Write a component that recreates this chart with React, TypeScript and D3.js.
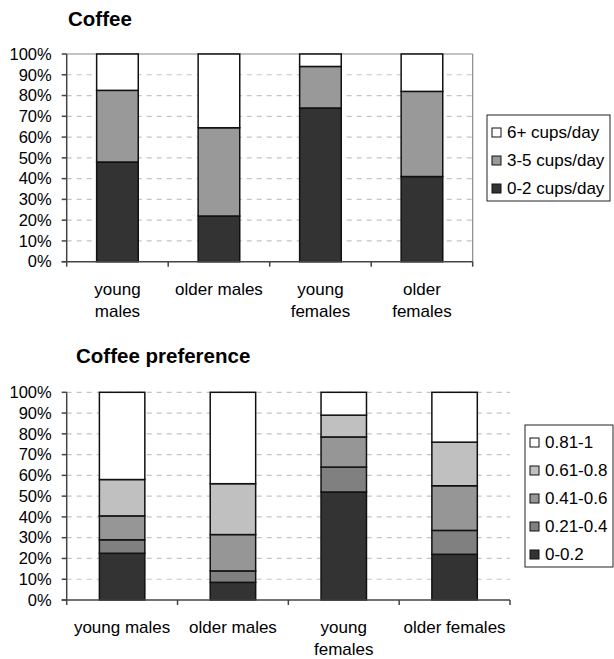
import React from 'react';
import * as d3 from 'd3';

// categories (same order in both charts)
const categories = ['young males', 'older males', 'young females', 'older females'];

// chart 1 - cups per day (% of group)
const cupKeys = ['0-2 cups/day', '3-5 cups/day', '6+ cups/day'];
const cups0to2 = [48, 22, 74, 41];
const cups3to5 = [34.5, 42.5, 20, 41];
const cups6plus = [17.5, 35.5, 6, 18];
const cupColors = ['#333333', '#999999', '#ffffff'];
const cupLabelLines = [['young', 'males'], ['older males'], ['young', 'females'], ['older', 'females']];

// chart 2 - preference score bins (% of group)
const prefKeys = ['0-0.2', '0.21-0.4', '0.41-0.6', '0.61-0.8', '0.81-1'];
const pref0 = [22.5, 8.5, 52, 22];
const pref21 = [6.5, 5.5, 12, 11.5];
const pref41 = [11.5, 17.5, 14.5, 21.5];
const pref61 = [17.5, 24.5, 10.5, 21];
const pref81 = [42, 44, 11, 24];
const prefColors = ['#333333', '#808080', '#969696', '#c0c0c0', '#ffffff'];
const prefLabelLines = [['young males'], ['older males'], ['young', 'females'], ['older females']];

const yTicks = [0, 10, 20, 30, 40, 50, 60, 70, 80, 90, 100];

const FONT = '"Liberation Sans", Arial, Helvetica, sans-serif';

type ChartProps = {
  title: string;
  titleX: number;
  titleY: number;
  keys: string[];
  series: number[][];
  colors: string[];
  labelLines: string[][];
  plot: { left: number; right: number; top: number; bottom: number };
  legend: { x: number; y: number; w: number };
  border: boolean;
};

const StackChart: React.FC<ChartProps> = ({ title, titleX, titleY, keys, series, colors, labelLines, plot, legend, border }) => {
  const rows = categories.map((c, i) => {
    const r: any = { cat: c };
    keys.forEach((k, j) => { r[k] = series[j][i]; });
    return r;
  });
  const stacked = d3.stack<any>().keys(keys)(rows);

  const x = d3.scaleBand<string>()
    .domain(categories)
    .range([plot.left, plot.right])
    .paddingInner(0.59)
    .paddingOuter(0.295);
  const step = x.step();
  const y = d3.scaleLinear().domain([0, 100]).range([plot.bottom, plot.top]);

  const rowH = 28;
  const legendH = keys.length * rowH + 2;

  return (
    <g fontFamily={FONT}>
      <text x={titleX} y={titleY} fontSize={20.5} fontWeight="bold" fill="#000">{title}</text>

      {/* gridlines */}
      {yTicks.filter(t => t > 0).map(t => (
        <line key={t} x1={plot.left} x2={plot.right} y1={y(t)} y2={y(t)}
          stroke={border && t === 100 ? '#888' : '#c4c4c4'} strokeWidth={1.2}
          strokeDasharray={border && t === 100 ? undefined : '5,5'} />
      ))}
      {border && (
        <line x1={plot.right} x2={plot.right} y1={plot.top} y2={plot.bottom} stroke="#888" strokeWidth={1.2} />
      )}

      {/* bars */}
      {stacked.map((s, si) => (
        <g key={s.key}>
          {s.map((d, i) => (
            <rect key={i}
              x={x(categories[i])}
              y={y(d[1])}
              width={x.bandwidth()}
              height={y(d[0]) - y(d[1])}
              fill={colors[si]}
              stroke="#111" strokeWidth={1.5} />
          ))}
        </g>
      ))}

      {/* y axis */}
      <line x1={plot.left} x2={plot.left} y1={plot.top} y2={plot.bottom} stroke="#444" strokeWidth={1.5} />
      {yTicks.map(t => (
        <g key={t}>
          <line x1={plot.left - 5} x2={plot.left} y1={y(t)} y2={y(t)} stroke="#444" strokeWidth={1.5} />
          <text x={plot.left - 15} y={y(t)} dy="0.35em" textAnchor="end" fontSize={16.5} fill="#000">{t}%</text>
        </g>
      ))}

      {/* x axis */}
      <line x1={plot.left - 5} x2={plot.right} y1={plot.bottom} y2={plot.bottom} stroke="#444" strokeWidth={1.5} />
      {d3.range(categories.length + 1).map(i => (
        <line key={i} x1={plot.left + i * step} x2={plot.left + i * step} y1={plot.bottom} y2={plot.bottom + 5}
          stroke="#444" strokeWidth={1.5} />
      ))}
      {categories.map((c, i) => (
        <text key={c} x={(x(c) as number) + x.bandwidth() / 2} y={plot.bottom + 33}
          textAnchor="middle" fontSize={17} fill="#000">
          {labelLines[i].map((ln, k) => (
            <tspan key={k} x={(x(c) as number) + x.bandwidth() / 2} dy={k === 0 ? 0 : 22}>{ln}</tspan>
          ))}
        </text>
      ))}

      {/* legend */}
      <rect x={legend.x} y={legend.y} width={legend.w} height={legendH} fill="#fff" stroke="#222" strokeWidth={1} />
      {keys.slice().reverse().map((k, i) => {
        const ci = keys.length - 1 - i;
        const cy = legend.y + 17.5 + i * rowH;
        return (
          <g key={k}>
            <rect x={legend.x + 5} y={cy - 4.5} width={9} height={9} fill={colors[ci]} stroke="#111" strokeWidth={1} />
            <text x={legend.x + 20} y={cy} dy="0.35em" fontSize={17} fill="#000">{k}</text>
          </g>
        );
      })}
    </g>
  );
};

export default function App() {
  return (
    <div style={{ position: 'absolute', left: 0, top: 0 }}>
      <svg width={614} height={659} style={{ display: 'block', background: '#fff' }}>
        <StackChart
          title="Coffee" titleX={68} titleY={26}
          keys={cupKeys}
          series={[cups0to2, cups3to5, cups6plus]}
          colors={cupColors}
          labelLines={cupLabelLines}
          plot={{ left: 66.7, right: 472.7, top: 54, bottom: 261.7 }}
          legend={{ x: 487, y: 115, w: 123 }}
          border={true}
        />
        <StackChart
          title="Coffee preference" titleX={76} titleY={363}
          keys={prefKeys}
          series={[pref0, pref21, pref41, pref61, pref81]}
          colors={prefColors}
          labelLines={prefLabelLines}
          plot={{ left: 66.7, right: 510, top: 392.3, bottom: 600 }}
          legend={{ x: 525, y: 425, w: 88 }}
          border={false}
        />
      </svg>
    </div>
  );
}
